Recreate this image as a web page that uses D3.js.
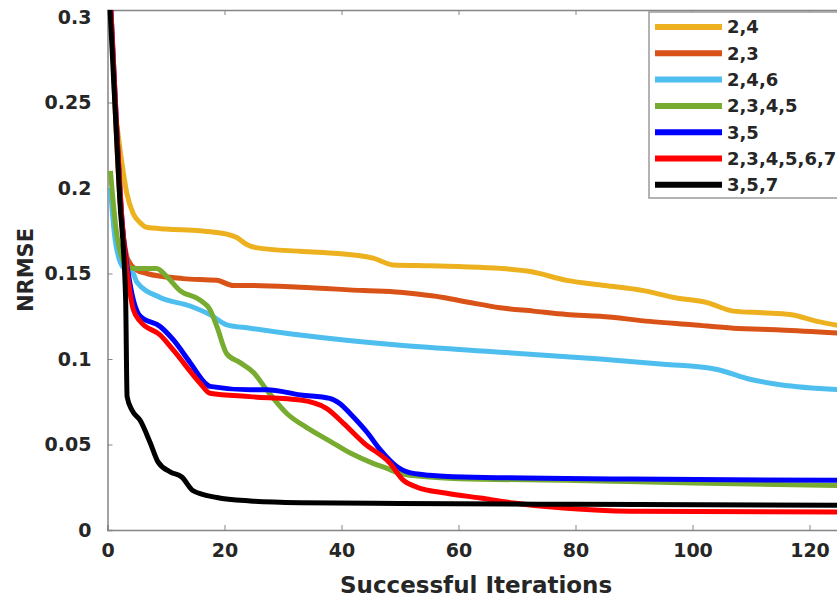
<!DOCTYPE html>
<html>
<head>
<meta charset="utf-8">
<script src="https://cdn.jsdelivr.net/npm/d3@7"></script>
<style>
  html, body { margin: 0; padding: 0; background: #fff; }
  svg { display: block; }
  text { font-family: 'DejaVu Sans', sans-serif; font-weight: bold; fill: #262626; }
</style>
</head>
<body>
<svg id="chart" width="837" height="599"></svg>
<script>
'use strict';

// series labels, in plotting order (last one drawn on top)
var seriesNames = ['2,4', '2,3', '2,4,6', '2,3,4,5', '3,5', '2,3,4,5,6,7', '3,5,7'];
var seriesColors = ['#EDB120', '#D95319', '#4DBEEE', '#77AC30', '#0000FF', '#FF0000', '#000000'];

// values (iteration, NRMSE)
var x24 = [1.5, 2.4, 3.3, 4.4, 5.5, 6.7, 10, 15.8, 18.7, 20.4, 22.1, 23.8, 25.6, 32.9, 38, 45.4, 48.8, 55, 60.8, 67.1, 72.5, 78.5, 85, 91.6, 96.8, 102.5, 107, 112, 116.7, 121.3, 126];
var y24 = [0.24, 0.216, 0.197, 0.185, 0.180, 0.177, 0.176, 0.175, 0.174, 0.173, 0.171, 0.167, 0.165, 0.163, 0.162, 0.159, 0.155, 0.1545, 0.154, 0.153, 0.151, 0.146, 0.143, 0.140, 0.136, 0.133, 0.128, 0.127, 0.126, 0.122, 0.119];

var x23 = [1, 2, 3, 3.5, 5, 6.7, 12.9, 18.7, 21.5, 23.8, 32.9, 43.8, 50, 52.9, 57.4, 62, 67.1, 72.8, 78.5, 84.2, 92.7, 100, 107, 115, 126];
var y23 = [0.27, 0.20, 0.165, 0.158, 0.152, 0.150, 0.147, 0.146, 0.143, 0.143, 0.142, 0.140, 0.139, 0.138, 0.136, 0.133, 0.130, 0.128, 0.126, 0.125, 0.122, 0.120, 0.118, 0.117, 0.115];

var x246 = [0.5, 1.3, 2.6, 4.4, 5, 9, 14.1, 17.5, 20.4, 24.4, 32.9, 50, 67.1, 84.2, 95, 104, 110, 115, 126];
var y246 = [0.20, 0.17, 0.154, 0.150, 0.145, 0.136, 0.131, 0.126, 0.120, 0.118, 0.114, 0.108, 0.104, 0.100, 0.097, 0.094, 0.088, 0.085, 0.082];

var x2345 = [0.5, 1.5, 3, 4.4, 8.4, 10.2, 12.4, 15.8, 17.5, 18.7, 20.4, 22.6, 25, 27.2, 30.7, 34, 38, 41.5, 45.4, 47.8, 50, 55, 60, 80, 100, 126];
var y2345 = [0.21, 0.175, 0.156, 0.153, 0.153, 0.148, 0.140, 0.1345, 0.129, 0.119, 0.103, 0.098, 0.092, 0.082, 0.068, 0.060, 0.052, 0.045, 0.039, 0.036, 0.033, 0.031, 0.030, 0.029, 0.0275, 0.026];

var x35 = [0.5, 1.5, 2.5, 3.8, 5.6, 9, 11.3, 14.1, 17, 17.5, 24.4, 27.2, 33, 38, 39.7, 41.5, 44.4, 46.6, 49.5, 51.2, 55, 60.8, 89.3, 126];
var y35 = [0.31, 0.24, 0.18, 0.145, 0.125, 0.119, 0.111, 0.098, 0.085, 0.084, 0.082, 0.082, 0.079, 0.077, 0.074, 0.068, 0.057, 0.047, 0.037, 0.034, 0.032, 0.031, 0.0298, 0.029];

var x234567 = [0.5, 1.5, 2.5, 3.8, 4.4, 5.6, 9, 11.3, 15.8, 17.5, 24.4, 33, 37.5, 40.3, 43.8, 48.3, 50.6, 52.9, 58, 63.7, 69.4, 77.9, 89.3, 126];
var y234567 = [0.31, 0.24, 0.18, 0.140, 0.129, 0.122, 0.114, 0.105, 0.086, 0.080, 0.078, 0.076, 0.071, 0.0625, 0.051, 0.039, 0.029, 0.025, 0.0215, 0.0187, 0.0158, 0.0129, 0.011, 0.0105];

var x357 = [0.2, 2.1, 3.1, 3.35, 4.2, 5.6, 7.3, 8.6, 10.7, 12.7, 14.6, 18.7, 24.4, 33, 50, 80, 126];
var y357 = [0.32, 0.193, 0.135, 0.078, 0.070, 0.064, 0.051, 0.040, 0.034, 0.031, 0.023, 0.019, 0.017, 0.016, 0.0155, 0.015, 0.0145];

var xTicks = [0, 20, 40, 60, 80, 100, 120];
var yTicks = [0, 0.05, 0.1, 0.15, 0.2, 0.25, 0.3];
var xLabel = 'Successful Iterations';
var yLabel = 'NRMSE';

var render = function () {
  var svg = d3.select('#chart'),
      axisColor = '#858585',
      left = 107.5,
      top = 10,
      bottom = 530,
      right = 844.6,
      series,
      x,
      y,
      line,
      legend;

  series = [[x24, y24], [x23, y23], [x246, y246], [x2345, y2345],
      [x35, y35], [x234567, y234567], [x357, y357]].map(function (s, i) {
    return {
      name: seriesNames[i],
      color: seriesColors[i],
      points: s[0].map(function (v, j) { return [v, s[1][j]]; })
    };
  });

  x = d3.scaleLinear().domain([0, 126]).range([left, right]);
  y = d3.scaleLinear().domain([0, 0.3041]).range([bottom, top]);

  svg.append('defs').append('clipPath').attr('id', 'plot-clip')
    .append('rect')
      .attr('x', left).attr('y', top)
      .attr('width', right - left).attr('height', bottom - top);

  // axes box, MATLAB style ticks pointing inwards
  svg.append('g')
    .attr('transform', 'translate(0,' + bottom + ')')
    .call(d3.axisBottom(x).tickValues(xTicks).tickSize(-5).tickPadding(14)
      .tickFormat(d3.format('d')))
    .call(function (g) {
      g.select('.domain').attr('stroke', axisColor).attr('stroke-width', 1.5);
      g.selectAll('.tick line').attr('stroke', axisColor);
      g.selectAll('.tick text').attr('font-size', 19).attr('fill', '#262626')
        .attr('dy', '0.71em');
    });

  svg.append('g')
    .attr('transform', 'translate(0,' + top + ')')
    .call(d3.axisTop(x).tickValues(xTicks).tickSize(-5).tickFormat(''))
    .call(function (g) {
      g.select('.domain').attr('stroke', axisColor).attr('stroke-width', 1.5);
      g.selectAll('.tick line').attr('stroke', axisColor);
    });

  svg.append('g')
    .attr('transform', 'translate(' + left + ',0)')
    .call(d3.axisLeft(y).tickValues(yTicks).tickSize(-5).tickPadding(16)
      .tickFormat(function (d) { return d === 0 ? '0' : String(+d.toFixed(2)); }))
    .call(function (g) {
      g.select('.domain').attr('stroke', axisColor).attr('stroke-width', 1.5);
      g.selectAll('.tick line').attr('stroke', axisColor);
      g.selectAll('.tick text').attr('font-size', 19).attr('fill', '#262626');
    });

  svg.append('text')
    .attr('x', (left + right) / 2)
    .attr('y', 593)
    .attr('text-anchor', 'middle')
    .attr('font-size', 23)
    .text(xLabel);

  svg.append('text')
    .attr('transform', 'translate(33,' + ((top + bottom) / 2) + ') rotate(-90)')
    .attr('text-anchor', 'middle')
    .attr('font-size', 21)
    .text(yLabel);

  line = d3.line()
    .curve(d3.curveMonotoneX)
    .x(function (d) { return x(d[0]); })
    .y(function (d) { return y(d[1]); });

  svg.append('g')
    .attr('clip-path', 'url(#plot-clip)')
    .selectAll('path')
    .data(series)
    .enter().append('path')
      .attr('d', function (d) { return line(d.points); })
      .attr('fill', 'none')
      .attr('stroke', function (d) { return d.color; })
      .attr('stroke-width', 5)
      .attr('stroke-linejoin', 'round');

  // legend box, runs off the right edge like the original
  legend = svg.append('g').attr('transform', 'translate(649,12)');
  legend.append('rect')
    .attr('width', 260).attr('height', 186)
    .attr('fill', '#fff').attr('stroke', '#9a9a9a').attr('stroke-width', 1.5);

  series.forEach(function (s, i) {
    var ry = 15 + i * 26.3;
    legend.append('line')
      .attr('x1', 6).attr('x2', 73)
      .attr('y1', ry).attr('y2', ry)
      .attr('stroke', s.color).attr('stroke-width', 6);
    legend.append('text')
      .attr('x', 78).attr('y', ry)
      .attr('dy', '0.36em')
      .attr('font-size', 18)
      .text(s.name);
  });
};

render();
</script>
</body>
</html>
